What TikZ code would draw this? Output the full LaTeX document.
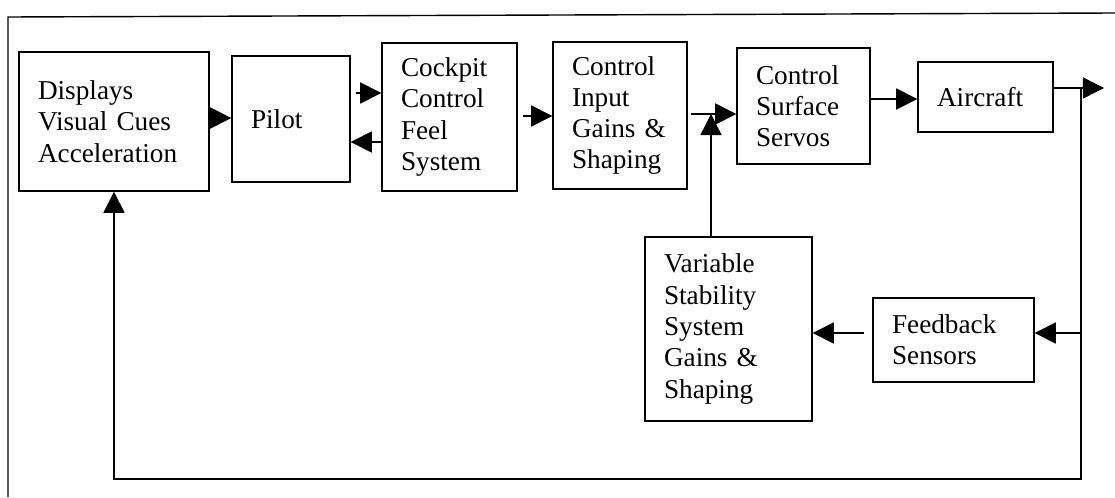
\documentclass[tikz,border=0pt]{standalone}
\usepackage{fontspec}
\setmainfont{Liberation Serif}
\usetikzlibrary{arrows.meta}

\begin{document}
\begin{tikzpicture}[x=0.02cm,y=-0.02cm,line width=0.8pt,
  box/.style 2 args={draw,align=left,text width=#1,minimum height=#2,inner xsep=0.38cm,
    font=\fontsize{15.5}{17.8}\selectfont},
  arr/.style={-{Triangle[length=12pt,width=12pt]}}]

\useasboundingbox (0,0) rectangle (1115,497);
\draw (8,497) -- (8,17) -- (1115,13);

\node[box={3.04cm}{2.78cm}] (disp) at (114,121.5) {Displays\\Visual Cues\\Acceleration};
\node[box={1.60cm}{2.52cm}] (pilot) at (291,119) {Pilot};
\node[box={1.94cm}{2.96cm}] (cockpit) at (449.5,117) {Cockpit\\Control\\Feel\\System};
\node[box={1.92cm}{2.94cm}] (input) at (620,115.5) {Control\\Input\\Gains \&\\Shaping};
\node[box={1.90cm}{2.32cm}] (servos) at (803.5,106) {Control\\Surface\\Servos};
\node[box={1.94cm}{1.40cm}] (aircraft) at (985.5,97) {Aircraft};
\node[box={2.58cm}{3.68cm}] (vss) at (728.5,329) {Variable\\Stability\\System\\Gains \&\\Shaping};
\node[box={2.46cm}{1.68cm}] (sensors) at (953.5,340) {Feedback\\Sensors};

\coordinate (sum) at (711,114);
\coordinate (br) at (1081,88);
\coordinate (out) at (1104,88);
\coordinate (fb) at (1081,333);
\coordinate (bot) at (1081,479);

\draw[arr] (disp.east |- 0,118) -- (pilot.west |- 0,118);
\draw[arr,shorten <=3pt] (pilot.east |- 0,93) -- (cockpit.west |- 0,93);
\draw[arr] (cockpit.west |- 0,142) -- (pilot.east |- 0,142);
\draw[arr,shorten <=3pt] (cockpit.east |- 0,116) -- (input.west |- 0,116);
\draw[arr,shorten <=2pt] (input.east |- sum) -- (servos.west |- sum);
\draw[arr] (vss.north -| sum) -- (sum);
\draw[arr] (servos.east |- 0,99) -- (aircraft.west |- 0,99);
\draw[arr] (aircraft.east |- br) -- (out);
\draw[arr] (br) -- (bot) -| (disp.south);
\draw[arr] (fb) -- (sensors.east |- fb);
\draw[arr,shorten <=5pt] (sensors.west |- fb) -- (vss.east |- fb);

\end{tikzpicture}
\end{document}
